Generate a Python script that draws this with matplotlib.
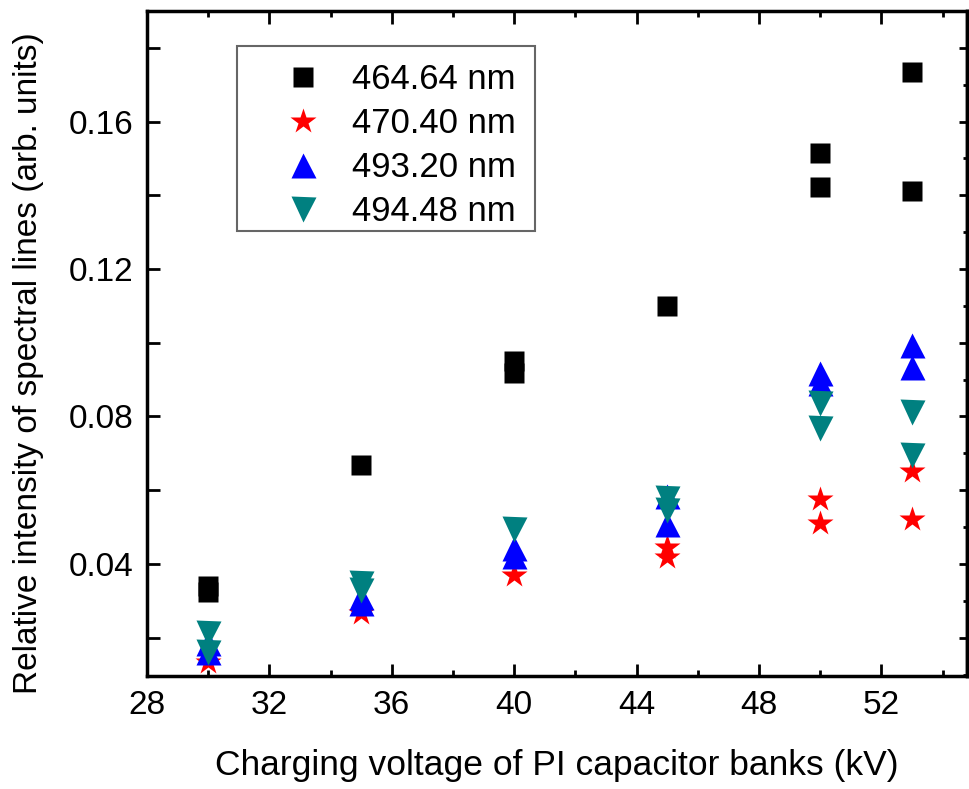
import numpy as np
import matplotlib.pyplot as plt
from matplotlib.ticker import FixedLocator, FormatStrFormatter
from matplotlib.patches import Rectangle

plt.rcParams['font.family'] = ['Liberation Sans', 'DejaVu Sans']

# charging voltage (kV) and relative intensity for each spectral line
v_464 = [30, 30, 35, 40, 40, 45, 50, 50, 53, 53]
i_464 = [0.0341, 0.0325, 0.0669, 0.0950, 0.0918, 0.1100, 0.1515, 0.1422, 0.1734, 0.1413]

v_470 = [30, 35, 40, 45, 45, 50, 50, 53, 53]
i_470 = [0.0135, 0.0266, 0.0370, 0.0447, 0.0420, 0.0576, 0.0511, 0.0651, 0.0521]

v_493 = [30, 30, 35, 35, 40, 40, 45, 45, 50, 50, 53, 53]
i_493 = [0.0186, 0.0162, 0.0311, 0.0294, 0.0443, 0.0422, 0.0583, 0.0508, 0.0917, 0.0892, 0.0993, 0.0934]

v_494 = [30, 30, 35, 35, 40, 45, 45, 50, 50, 53, 53]
i_494 = [0.0214, 0.0160, 0.0348, 0.0330, 0.0494, 0.0578, 0.0547, 0.0837, 0.0770, 0.0812, 0.0696]

labels = ['464.64 nm', '470.40 nm', '493.20 nm', '494.48 nm']
x_major = [28, 32, 36, 40, 44, 48, 52]
x_minor = [30, 34, 38, 42, 46, 50, 54]
y_major = [0.04, 0.08, 0.12, 0.16]
y_minor = [0.02, 0.06, 0.10, 0.14, 0.18]

W, H = 969, 789
fig = plt.figure(figsize=(W / 100, H / 100), dpi=100)
ax = fig.add_axes([147 / W, 1 - 676 / H, (967 - 147) / W, (676 - 11) / H])

ax.plot(v_464, i_464, ls='none', marker='s', ms=15, color='black', mec='none', label=labels[0])
ax.plot(v_470, i_470, ls='none', marker='*', ms=19, color='red', mec='none', label=labels[1])
ax.plot(v_493, i_493, ls='none', marker='^', ms=18, color='blue', mec='none', label=labels[2])
ax.plot(v_494, i_494, ls='none', marker='v', ms=18, color='#008080', mec='none', label=labels[3])

ax.set_xlim(28, 54.8)
ax.set_ylim(0.0096, 0.190)

ax.xaxis.set_major_locator(FixedLocator(x_major))
ax.xaxis.set_minor_locator(FixedLocator(x_minor))
ax.yaxis.set_major_locator(FixedLocator(y_major))
ax.yaxis.set_minor_locator(FixedLocator(y_minor))
ax.yaxis.set_major_formatter(FormatStrFormatter('%.2f'))

ax.tick_params(axis='x', which='major', direction='in', length=9, width=2,
               top=True, labelsize=24, pad=10)
ax.tick_params(axis='x', which='minor', direction='in', length=4.5, width=2, top=True)
ax.tick_params(axis='y', which='both', direction='in', length=9, width=2,
               right=False, labelsize=24, pad=10)

# right axis has its own finer ticks
ay = ax.secondary_yaxis('right')
ay.yaxis.set_major_locator(FixedLocator(np.arange(0.02, 0.19, 0.02)))
ay.yaxis.set_minor_locator(FixedLocator(np.arange(0.01, 0.19, 0.02)))
ay.tick_params(which='major', direction='in', length=6, width=2, labelright=False)
ay.tick_params(which='minor', direction='in', length=3, width=2)
ay.spines['right'].set_linewidth(2.5)

for s in ax.spines.values():
    s.set_linewidth(2.5)

ax.set_xlabel('Charging voltage of PI capacitor banks (kV)', fontsize=25.5, labelpad=20)
ax.set_ylabel('Relative intensity of spectral lines (arb. units)', fontsize=24)
ax.yaxis.set_label_coords(-0.125, 0.47)

leg = ax.legend(loc='upper left', bbox_to_anchor=(268 / W, 1 - 63 / H),
                bbox_transform=fig.transFigure, frameon=False, fontsize=25,
                numpoints=1, borderpad=0, borderaxespad=0, handlelength=2.0,
                handletextpad=0.42, labelspacing=0.32)
fig.patches.append(Rectangle((237 / W, 1 - 231 / H), (535 - 237) / W, (231 - 46) / H,
                             transform=fig.transFigure, fill=False,
                             edgecolor='#666666', lw=1.5, figure=fig))

fig.savefig('out.png', dpi=100)
